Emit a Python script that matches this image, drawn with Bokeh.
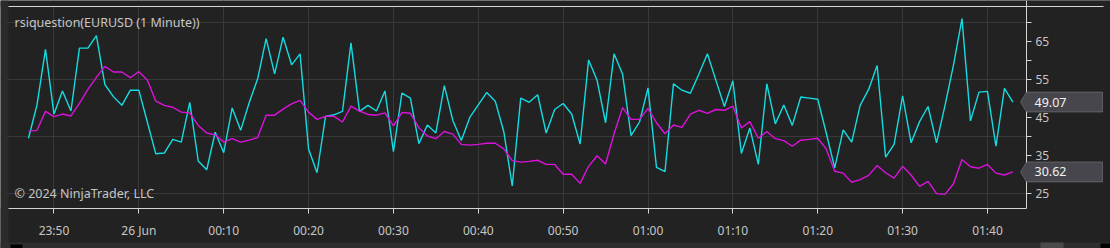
from bokeh.plotting import figure
from bokeh.models import FixedTicker, Label, PolyAnnotation, BoxAnnotation
from bokeh.embed import file_html
from bokeh.resources import INLINE

# ---------------- data ----------------
# minute offset from 23:47 (25 Jun) – one bar per minute
minutes = list(range(117))

rsi = [39.5, 48.3, 63.0, 45.9, 52.0, 46.7, 63.3, 63.3, 66.6, 53.7,
       50.5, 48.2, 52.2, 52.2, 43.8, 35.4, 35.6, 39.2, 38.5, 49.0,
       33.5, 31.2, 41.1, 35.7, 47.5, 41.6, 48.9, 55.2, 65.8, 56.5,
       66.2, 58.9, 61.8, 36.7, 30.4, 45.3, 45.7, 46.6, 64.7, 46.6,
       48.2, 46.7, 52.0, 36.0, 51.4, 50.1, 38.1, 43.0, 40.9, 53.4,
       44.2, 38.9, 45.0, 48.3, 51.6, 49.3, 41.3, 26.9, 50.1, 49.0,
       51.0, 40.9, 47.1, 48.7, 45.9, 38.0, 60.2, 54.8, 43.6, 61.8,
       56.5, 40.2, 43.8, 52.8, 31.8, 30.7, 53.9, 52.2, 51.4, 56.5,
       61.8, 54.8, 47.9, 54.7, 35.5, 42.2, 32.6, 53.9, 43.3, 48.3,
       42.9, 50.4, 50.1, 49.8, 40.9, 31.7, 41.7, 38.5, 48.2, 52.4,
       58.7, 34.5, 37.9, 50.7, 38.3, 43.9, 47.9, 38.3, 48.2, 58.9,
       71.1, 44.1, 51.7, 51.9, 37.4, 52.7, 49.07]

avg = [41.4, 41.6, 46.6, 45.2, 45.9, 45.4, 48.7, 52.4, 55.6, 58.5,
       57.0, 57.0, 55.5, 57.1, 54.9, 49.3, 48.2, 47.7, 46.4, 46.2,
       42.9, 40.9, 40.4, 38.5, 39.4, 38.5, 39.0, 39.7, 45.6, 45.6,
       47.2, 48.6, 49.5, 46.4, 44.5, 45.3, 45.3, 43.8, 48.0, 46.7,
       45.8, 45.6, 46.2, 42.8, 46.3, 46.1, 42.3, 40.1, 39.4, 41.3,
       40.6, 37.9, 37.7, 37.9, 38.2, 38.2, 36.7, 33.6, 33.2, 33.4,
       33.7, 32.6, 32.6, 30.0, 30.0, 27.6, 32.1, 34.9, 32.7, 40.7,
       47.6, 44.5, 44.5, 47.4, 43.6, 40.7, 43.0, 42.4, 45.9, 46.9,
       46.1, 47.1, 46.9, 48.0, 42.2, 43.9, 39.5, 41.3, 39.4, 38.9,
       37.4, 39.0, 39.2, 39.5, 36.7, 30.8, 30.3, 27.9, 28.6, 29.7,
       32.3, 30.4, 29.0, 32.1, 29.8, 26.8, 28.1, 24.9, 24.7, 27.5,
       33.9, 32.0, 31.6, 32.6, 30.3, 29.8, 30.62]

tick_minutes = [3, 13, 23, 33, 43, 53, 63, 73, 83, 93, 103, 113]
tick_labels = ["23:50", "26 Jun", "00:10", "00:20", "00:30", "00:40",
               "00:50", "01:00", "01:10", "01:20", "01:30", "01:40"]
y_labels = [25, 35, 45, 55, 65]
y_minor = [30, 40, 50, 60, 70]
y_grid = [25, 40, 55, 70]

title_text = "rsiquestion(EURUSD (1 Minute))"
copyright_text = "\u00a9 2024 NinjaTrader, LLC"

# ---------------- style / layout ----------------
W, H = 1110, 248
# chart panel inside the canvas (pixels) and its visible data window
FL, FR, FT, FB = 9, 1026, 6, 208
X0, X1 = -2.24, 117.6
Y0, Y1 = 20.96, 74.3
# extend the ranges to the whole canvas (axes are pinned with fixed_location)
XA = X0 - FL * (X1 - X0) / (FR - FL)
XB = X1 + (W - FR) * (X1 - X0) / (FR - FL)
YB = Y1 + FT * (Y1 - Y0) / (FB - FT)
YA = Y0 - (H - FB) * (Y1 - Y0) / (FB - FT)

BG = "#222222"
STRIP = "#2b2b2b"
GRID = "#393939"
AX = "#d4d4d4"
TXT = "#c6c6c6"
CYAN = "#14dce2"
MAG = "#dc12dc"
FONT = "Noto Sans"


def px_x(px):
    return XA + px * (XB - XA) / W


def py_y(py):
    return YB - py * (YB - YA) / H


p = figure(width=W, height=H, x_range=(XA, XB), y_range=(YA, YB),
           output_backend="svg", toolbar_location=None,
           y_axis_location="right",
           min_border=0, min_border_left=0, min_border_right=0,
           min_border_top=0, min_border_bottom=0,
           background_fill_color=BG, border_fill_color=BG,
           outline_line_color=None)

# x axis, pinned to the bottom of the chart panel
xa = p.xaxis[0]
xa.fixed_location = Y0
xa.bounds = (px_x(8), X1)
xa.ticker = FixedTicker(ticks=tick_minutes, minor_ticks=[])
xa.major_label_overrides = {t: l for t, l in zip(tick_minutes, tick_labels)}
xa.axis_line_color = AX
xa.major_tick_line_color = AX
xa.major_tick_out = 5
xa.major_tick_in = 0
xa.minor_tick_line_color = None
xa.major_label_text_color = TXT
xa.major_label_text_font = FONT
xa.major_label_text_font_size = "12px"
xa.major_label_standoff = 8

# y axis (right), pinned to the right edge of the chart panel
ya = p.yaxis[0]
ya.fixed_location = X1
ya.bounds = (Y0, YB)
ya.ticker = FixedTicker(ticks=y_labels, minor_ticks=y_minor)
ya.axis_line_color = AX
ya.major_tick_line_color = AX
ya.minor_tick_line_color = AX
ya.major_tick_out = 5
ya.major_tick_in = 0
ya.minor_tick_out = 5
ya.minor_tick_in = 0
ya.major_label_text_color = TXT
ya.major_label_text_font = FONT
ya.major_label_text_font_size = "12px"
ya.major_label_standoff = 4

# grids
p.xgrid.ticker = FixedTicker(ticks=tick_minutes)
p.ygrid.ticker = FixedTicker(ticks=y_grid)
p.xgrid.grid_line_color = GRID
p.ygrid.grid_line_color = GRID


def box(l, r, t, b, color, level="annotation"):
    p.add_layout(BoxAnnotation(left=px_x(l), right=px_x(r),
                               top=py_y(t), bottom=py_y(b),
                               fill_color=color, fill_alpha=1.0,
                               line_color=None, level=level))


# masks that keep the grid inside the chart panel
box(FR, W, 0, H, BG, "underlay")
box(0, W, FB, H, BG, "underlay")
box(0, W, 0, FT, BG, "underlay")
box(0, 8, 0, H, STRIP, "underlay")

# series
p.line(minutes, rsi, line_color=CYAN, line_width=1.4)
p.line(minutes, avg, line_color=MAG, line_width=1.4)

# texts inside the panel
p.add_layout(Label(x=px_x(14), y=py_y(22), text=title_text,
                   text_baseline="middle", text_color=TXT,
                   text_font=FONT, text_font_size="12.5px"))
p.add_layout(Label(x=px_x(14), y=py_y(192.5), text=copyright_text,
                   text_baseline="middle", text_color=TXT,
                   text_font=FONT, text_font_size="12.5px"))

# last-value tags on the price axis
half = 10 * (Y1 - Y0) / (FB - FT)
for v in (rsi[-1], avg[-1]):
    p.add_layout(PolyAnnotation(
        xs=[px_x(1020), px_x(1026), px_x(1102), px_x(1102), px_x(1026)],
        ys=[v, v + half, v + half, v - half, v - half],
        fill_color="#47464d", fill_alpha=1.0,
        line_color="#b8b8b8", line_width=1))
    p.add_layout(Label(x=px_x(1034), y=v, text=f"{v:.2f}",
                       text_baseline="middle", text_color="#f2f2f2",
                       text_font=FONT, text_font_size="12.5px"))

# window chrome: top rule, scrollbar
box(8, 1103, 5.5, 6.5, AX)
box(0, W, 242, H, "#2e2e2e")
box(10, 22, 244, H, "#000000")
box(1040, 1063, 242, H, "#4a4a4a")
box(1100, W, 243, H, "#000000")

open("out.html", "w").write(file_html(p, INLINE))
